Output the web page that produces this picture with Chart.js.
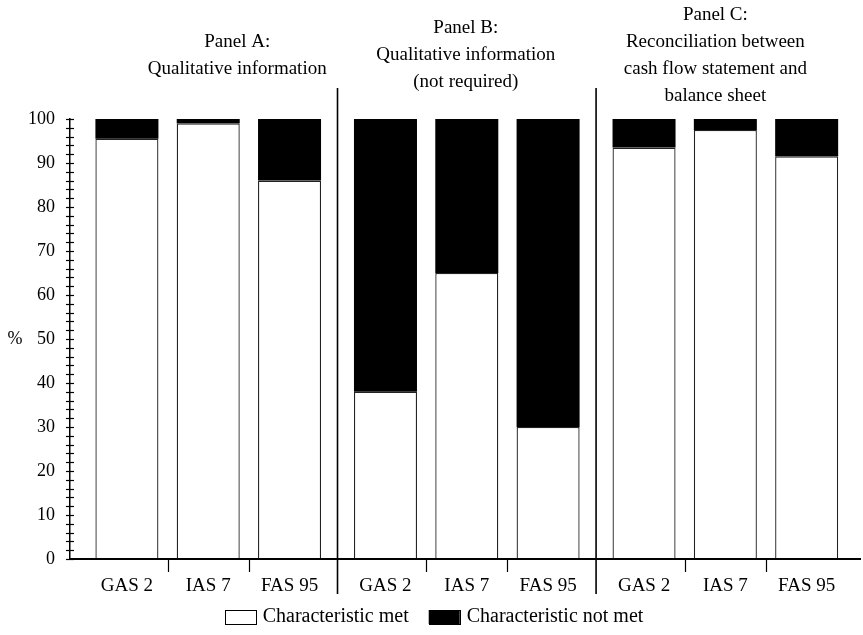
<!DOCTYPE html>
<html><head><meta charset="utf-8">
<script src="https://cdn.jsdelivr.net/npm/chart.js@4.4.0/dist/chart.umd.min.js"></script>
<style>html,body{margin:0;padding:0;background:#fff}#wrap{width:863px;height:635px;position:relative}</style>
</head><body><div id="wrap"><canvas id="c" width="863" height="635"></canvas></div>
<script>
// ---- data ----
const panelTitles = [
  ['Panel A:', 'Qualitative information'],
  ['Panel B:', 'Qualitative information', '(not required)'],
  ['Panel C:', 'Reconciliation between', 'cash flow statement and', 'balance sheet']
];
const categories = ['GAS 2', 'IAS 7', 'FAS 95'];
const seriesNames = ['Characteristic met', 'Characteristic not met'];
const metValues    = [95.5, 99, 86, 38, 65, 30, 93.5, 97.5, 91.5];
const notMetValues = [4.5, 1, 14, 62, 35, 70, 6.5, 2.5, 8.5];
const yTickLabels  = [0, 10, 20, 30, 40, 50, 60, 70, 80, 90, 100];
const yUnitLabel = '%';

// ---- layout (not data) ----
const PANEL_SPAN = 3.18;          // category slots per panel incl. gap
const FONT = 'Liberation Serif';
const titleNudge = [29, -1, -10]; // px offset of title centre from panel middle
const pos = k => Math.floor(k / categories.length) * PANEL_SPAN + (k % categories.length);
const positions = metValues.map((_, k) => pos(k));

const overlay = {
  id: 'overlay',
  afterDatasetsDraw(chart) {
    const {ctx, chartArea: ca, scales: {x, y}} = chart;
    ctx.save();
    ctx.strokeStyle = '#000';
    // re-stroke the category axis line over the bar bottoms
    ctx.lineWidth = 2;
    ctx.beginPath(); ctx.moveTo(ca.left, ca.bottom); ctx.lineTo(ca.right, ca.bottom); ctx.stroke();
    // crossing y ticks
    ctx.lineWidth = 1.2;
    y.ticks.forEach(t => {
      const py = Math.round(y.getPixelForValue(t.value)) + 0.5;
      ctx.beginPath(); ctx.moveTo(ca.left - 4, py); ctx.lineTo(ca.left + 4, py); ctx.stroke();
    });
    // small ticks between categories within a panel
    for (let p = 0; p < panelTitles.length; p++) {
      for (let i = 0; i < categories.length - 1; i++) {
        const px = Math.round(x.getPixelForValue(p * PANEL_SPAN + i + 0.5)) + 0.5;
        ctx.beginPath(); ctx.moveTo(px, ca.bottom); ctx.lineTo(px, ca.bottom + 13); ctx.stroke();
      }
    }
    // panel separators
    ctx.lineWidth = 1.6;
    for (let p = 0; p < panelTitles.length - 1; p++) {
      const v = p * PANEL_SPAN + (categories.length - 1) + (PANEL_SPAN - (categories.length - 1)) / 2;
      const px = x.getPixelForValue(v);
      ctx.beginPath(); ctx.moveTo(px, 88); ctx.lineTo(px, 594); ctx.stroke();
    }
    // panel titles
    ctx.fillStyle = '#000';
    ctx.font = '19px "' + FONT + '"';
    ctx.textAlign = 'center'; ctx.textBaseline = 'middle';
    const lh = 27, midY = 55.5;
    panelTitles.forEach((lines, p) => {
      const cx = x.getPixelForValue(p * PANEL_SPAN + 1) + titleNudge[p];
      const y0 = midY - (lines.length - 1) * lh / 2;
      lines.forEach((s, j) => ctx.fillText(s, cx, y0 + j * lh));
    });
    // unit label
    ctx.font = '18px "' + FONT + '"';
    ctx.fillText(yUnitLabel, 15, y.getPixelForValue(50));
    // legend
    ctx.font = '20px "' + FONT + '"';
    ctx.textAlign = 'left';
    const items = chart.data.datasets.map(d => ({text: d.label, fill: d.backgroundColor}));
    const boxW = 31, boxH = 14, gap = 7, itemGap = 20, ly = 617;
    const total = items.reduce((s, it) => s + boxW + gap + ctx.measureText(it.text).width, 0) + itemGap * (items.length - 1);
    let lx = 434 - total / 2;
    items.forEach(it => {
      ctx.fillStyle = it.fill;
      ctx.fillRect(lx, ly - boxH / 2, boxW, boxH);
      ctx.lineWidth = 1;
      ctx.strokeRect(Math.round(lx) + 0.5, Math.round(ly - boxH / 2) + 0.5, boxW, boxH);
      ctx.fillStyle = '#000';
      ctx.fillText(it.text, lx + boxW + gap, ly);
      lx += boxW + gap + ctx.measureText(it.text).width + itemGap;
    });
    ctx.restore();
  }
};

new Chart(document.getElementById('c'), {
  type: 'bar',
  data: {
    datasets: [
      {label: seriesNames[0], data: metValues.map((v, k) => ({x: pos(k), y: v})),
       backgroundColor: '#fff', borderColor: '#222', borderWidth: 1.3},
      {label: seriesNames[1], data: notMetValues.map((v, k) => ({x: pos(k), y: v})),
       backgroundColor: '#000', borderColor: '#000', borderWidth: 0}
    ]
  },
  options: {
    responsive: false, animation: false, devicePixelRatio: 1,
    layout: {padding: {top: 119, right: 3, left: 0, bottom: 0}},
    datasets: {bar: {barPercentage: 0.775, categoryPercentage: 1}},
    scales: {
      x: {
        type: 'linear', stacked: true, offset: false, min: -0.70, max: 9.016,
        grid: {display: false, drawTicks: false},
        border: {display: true, color: '#000', width: 2},
        afterBuildTicks: s => { s.ticks = positions.map(v => ({value: v})); },
        afterFit: s => { s.height = 76; },
        ticks: {autoSkip: false, maxRotation: 0, padding: 16, color: '#000',
          font: {family: FONT, size: 19},
          callback: (v, i) => categories[i % categories.length]}
      },
      y: {
        stacked: true, min: 0, max: 100,
        grid: {display: false, drawTicks: false},
        border: {display: true, color: '#000', width: 1.5},
        afterBuildTicks: s => { const t = []; for (let v = 0; v <= 100; v += 2) t.push({value: v}); s.ticks = t; },
        afterFit: s => { s.width = 70; },
        ticks: {autoSkip: false, padding: 15, color: '#000', font: {family: FONT, size: 18},
          callback: v => yTickLabels.includes(v) ? String(v) : ''}
      }
    },
    plugins: {
      legend: {display: false},
      tooltip: {enabled: false}
    }
  },
  plugins: [overlay]
});
</script></body></html>
